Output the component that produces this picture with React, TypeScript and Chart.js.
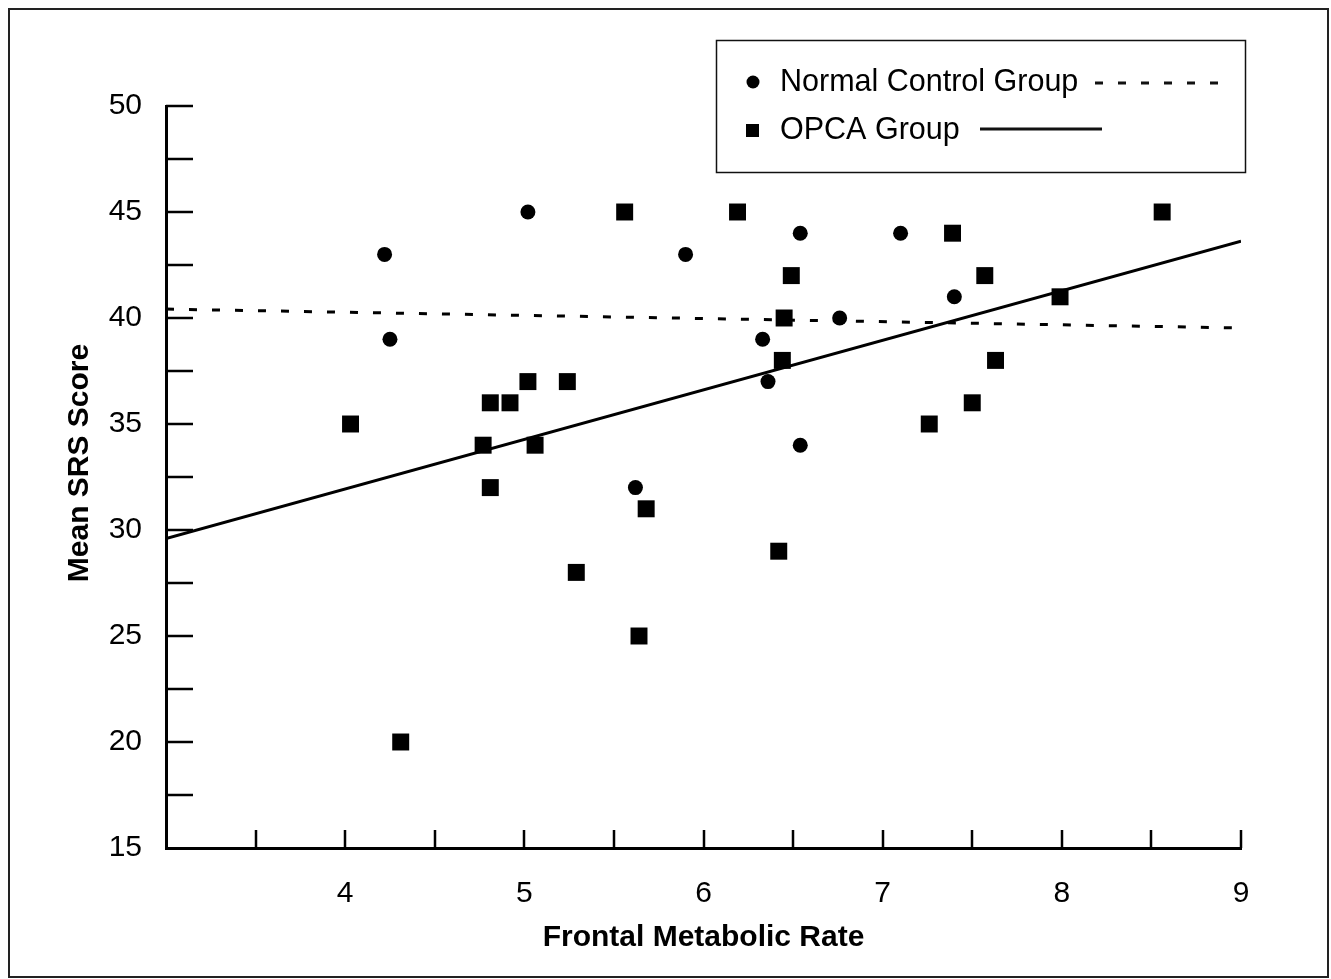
import React, { useEffect, useRef } from "react";
import { Chart, registerables } from "chart.js";

Chart.register(...registerables);

// ---- Data ----
const normalX = [4.22, 4.25, 5.02, 5.62, 5.9, 6.33, 6.36, 6.54, 6.54, 6.76, 7.1, 7.4];
const normalY = [43, 39, 45, 32, 43, 39, 37, 44, 34, 40, 44, 41];

const opcaX = [4.03, 4.31, 4.77, 4.81, 4.81, 4.92, 5.02, 5.06, 5.24, 5.29, 5.56, 5.64, 5.68, 6.19, 6.42, 6.44, 6.45, 6.49, 7.26, 7.39, 7.5, 7.57, 7.63, 7.99, 8.56];
const opcaY = [35, 20, 34, 36, 32, 36, 37, 34, 37, 28, 45, 25, 31, 45, 29, 38, 40, 42, 35, 44, 36, 42, 38, 41, 45];

const fitX = [3, 9];
const normalFitY = [40.42, 39.53];
const opcaFitY = [29.6, 43.62];

const xLabeledTicks = [4, 5, 6, 7, 8, 9];
const yLabeledTicks = [15, 20, 25, 30, 35, 40, 45, 50];

const seriesNames = ["Normal Control Group", "OPCA Group"];
const xTitle = "Frontal Metabolic Rate";
const yTitle = "Mean SRS Score";

const FONT = '"Liberation Sans", Arial, Helvetica, sans-serif';
const W = 1321;
const H = 970;

const overlay = {
  id: "overlay",
  afterDraw(chart: any) {
    const { ctx, chartArea, scales } = chart;
    const xs = scales.x;
    const ys = scales.y;
    ctx.save();
    // inward tick marks
    ctx.strokeStyle = "#000";
    ctx.lineWidth = 2.5;
    ctx.beginPath();
    xs.ticks.forEach((t: any) => {
      if (t.value <= xs.min) return;
      const px = Math.round(xs.getPixelForValue(t.value));
      ctx.moveTo(px, chartArea.bottom);
      ctx.lineTo(px, chartArea.bottom - 18);
    });
    ys.ticks.forEach((t: any) => {
      if (t.value <= ys.min) return;
      const py = Math.round(ys.getPixelForValue(t.value));
      ctx.moveTo(chartArea.left, py);
      ctx.lineTo(chartArea.left + 27, py);
    });
    ctx.stroke();

    // y axis title
    ctx.save();
    ctx.translate(72, 455);
    ctx.rotate(-Math.PI / 2);
    ctx.font = `bold 30px ${FONT}`;
    ctx.fillStyle = "#000";
    ctx.textAlign = "center";
    ctx.textBaseline = "middle";
    ctx.fillText(yTitle, 0, 0);
    ctx.restore();

    // outer frame
    ctx.strokeStyle = "#222";
    ctx.lineWidth = 2;
    ctx.strokeRect(1, 1, W - 2, H - 2);

    // legend box
    ctx.strokeStyle = "#111";
    ctx.lineWidth = 1.5;
    ctx.strokeRect(708.5, 32.5, 529, 132);

    ctx.fillStyle = "#000";
    // circle marker
    ctx.beginPath();
    ctx.arc(745, 74, 6.5, 0, Math.PI * 2);
    ctx.fill();
    // square marker
    ctx.fillRect(738, 116, 13, 13);

    ctx.font = `30.5px ${FONT}`;
    ctx.textAlign = "left";
    ctx.textBaseline = "middle";
    ctx.fillText(seriesNames[0], 772, 75);
    ctx.fillText(seriesNames[1], 772, 123);

    // dashed sample
    ctx.lineWidth = 3;
    ctx.setLineDash([8, 15]);
    ctx.beginPath();
    ctx.moveTo(1087, 75);
    ctx.lineTo(1211, 75);
    ctx.stroke();
    // solid sample
    ctx.setLineDash([]);
    ctx.beginPath();
    ctx.moveTo(972, 121);
    ctx.lineTo(1094, 121);
    ctx.stroke();

    ctx.restore();
  },
};

export default function App() {
  const canvasRef = useRef<HTMLCanvasElement | null>(null);

  useEffect(() => {
    if (!canvasRef.current) return;
    const chart = new Chart(canvasRef.current, {
      type: "scatter",
      data: {
        datasets: [
          {
            label: seriesNames[0],
            data: normalX.map((x, i) => ({ x, y: normalY[i] })),
            pointStyle: "circle",
            pointRadius: 7.5,
            pointBorderWidth: 0,
            backgroundColor: "#000",
            borderColor: "#000",
          },
          {
            label: seriesNames[1],
            data: opcaX.map((x, i) => ({ x, y: opcaY[i] })),
            pointStyle: "rect",
            pointRadius: 12,
            pointBorderWidth: 0,
            backgroundColor: "#000",
            borderColor: "#000",
          },
          {
            label: seriesNames[0] + " fit",
            data: fitX.map((x, i) => ({ x, y: normalFitY[i] })),
            showLine: true,
            pointRadius: 0,
            borderColor: "#000",
            borderWidth: 3,
            borderDash: [8, 15],
          },
          {
            label: seriesNames[1] + " fit",
            data: fitX.map((x, i) => ({ x, y: opcaFitY[i] })),
            showLine: true,
            pointRadius: 0,
            borderColor: "#000",
            borderWidth: 3,
          },
        ],
      },
      options: {
        responsive: false,
        animation: false,
        devicePixelRatio: 1,
        layout: { padding: { left: 50, right: 88, top: 98, bottom: 0 } },
        plugins: {
          legend: { display: false },
          tooltip: { enabled: false },
        },
        scales: {
          x: {
            type: "linear",
            min: 3,
            max: 9,
            grid: { display: false },
            border: { display: true, color: "#000", width: 3 },
            ticks: {
              stepSize: 0.5,
              autoSkip: false,
              maxRotation: 0,
              padding: 20,
              color: "#000",
              font: { family: FONT, size: 30 },
              callback: (v: any) => (xLabeledTicks.includes(Number(v)) ? String(v) : ""),
            },
            title: {
              display: true,
              text: xTitle,
              color: "#000",
              font: { family: FONT, size: 30, weight: "bold" },
              padding: { top: 0, bottom: 22 },
            },
            afterFit: (s: any) => {
              s.height = 130;
            },
          },
          y: {
            type: "linear",
            min: 15,
            max: 50,
            grid: { display: false },
            border: { display: true, color: "#000", width: 3 },
            ticks: {
              stepSize: 2.5,
              autoSkip: false,
              padding: 16,
              color: "#000",
              font: { family: FONT, size: 30 },
              callback: (v: any) => (yLabeledTicks.includes(Number(v)) ? String(v) : ""),
            },
            afterFit: (s: any) => {
              s.width = 108;
            },
          },
        },
      },
      plugins: [overlay],
    });
    return () => chart.destroy();
  }, []);

  return (
    <div style={{ position: "absolute", left: 8, top: 8, width: W, height: H }}>
      <canvas ref={canvasRef} width={W} height={H} style={{ display: "block" }} />
    </div>
  );
}
